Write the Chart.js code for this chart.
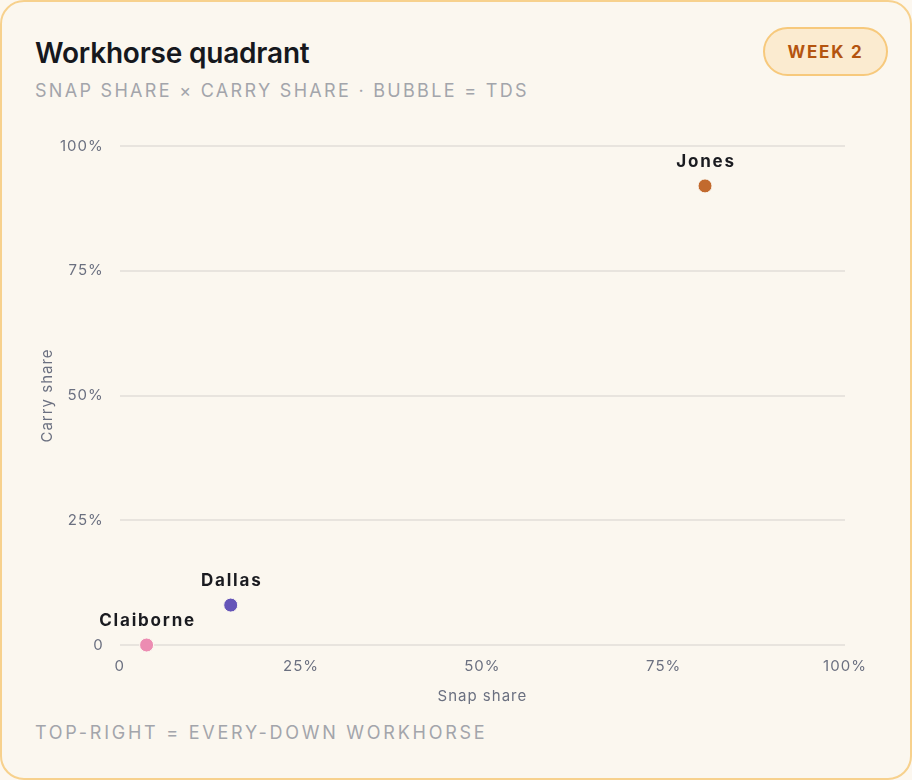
<!DOCTYPE html>
<html>
<head>
<meta charset="utf-8">
<script src="https://cdn.jsdelivr.net/npm/chart.js@4.4.1/dist/chart.umd.min.js"></script>
<style>
  html, body { margin: 0; padding: 0; background: #fcf7ef; }
  .card {
    position: relative;
    width: 912px; height: 780px;
    box-sizing: border-box;
    border: 2px solid #f7d18d;
    border-radius: 24px;
    background: #fbf7ef;
    font-family: Inter, "Noto Sans", sans-serif;
  }
  .title {
    position: absolute; left: 33px; top: 34px;
    font-size: 28px; font-weight: 600; color: #16181d;
    letter-spacing: -0.2px;
  }
  .subtitle {
    position: absolute; left: 33px; top: 78px;
    font-size: 18px; color: #a3a5ab; letter-spacing: 2.3px;
  }
  .badge {
    position: absolute; left: 761px; top: 25px;
    width: 125px; height: 49px;
    box-sizing: border-box;
    border: 2px solid #f7c97c; border-radius: 25px;
    background: #fbebd0;
    color: #b4540f; font-size: 17px; font-weight: 700; letter-spacing: 1.8px;
    display: flex; align-items: center; justify-content: center;
  }
  .footer {
    position: absolute; left: 33px; top: 720px;
    font-size: 18px; color: #a3a5ab; letter-spacing: 2.75px;
  }
  .chart-wrap {
    position: absolute; left: 36px; top: 119px;
    width: 837px; height: 588px;
  }
</style>
</head>
<body>
<div class="card">
  <div class="title">Workhorse quadrant</div>
  <div class="subtitle">SNAP SHARE × CARRY SHARE · BUBBLE = TDS</div>
  <div class="badge">WEEK 2</div>
  <div class="chart-wrap"><canvas id="quadrant"></canvas></div>
  <div class="footer">TOP-RIGHT = EVERY-DOWN WORKHORSE</div>
</div>
<script>
// Players and their shares (percent)
const players = ['Jones', 'Dallas', 'Claiborne'];
const snapShare = [80.7, 15.3, 3.7];
const carryShare = [92, 8, 0];
const tds = [0, 0, 0];
const colors = ['#c26a2e', '#6555b8', '#ec8cb2'];
const axisTicks = [0, 25, 50, 75, 100];

const pctLabel = v => v === 0 ? '0' : v + '%';
const fontFamily = 'Inter, "Noto Sans", sans-serif';

// Slightly spaced letters for ticks and axis titles
const spacing = {
  id: 'spacing',
  beforeDraw(chart) {
    chart.ctx.letterSpacing = '1px';
  }
};

// Draw player names above each bubble
const nameLabels = {
  id: 'nameLabels',
  afterDatasetsDraw(chart) {
    const ctx = chart.ctx;
    const meta = chart.getDatasetMeta(0);
    ctx.save();
    ctx.font = '700 17px ' + fontFamily;
    ctx.letterSpacing = '1.8px';
    ctx.fillStyle = '#1a1b20';
    ctx.textAlign = 'center';
    ctx.textBaseline = 'bottom';
    meta.data.forEach((pt, i) => {
      ctx.fillText(players[i], pt.x + 1, pt.y - 16);
    });
    ctx.restore();
  }
};

const ctx = document.getElementById('quadrant').getContext('2d');
new Chart(ctx, {
  type: 'bubble',
  data: {
    datasets: [{
      label: 'Players',
      data: players.map((p, i) => ({ x: snapShare[i], y: carryShare[i], r: 7 + tds[i] * 3 })),
      backgroundColor: colors,
      borderColor: '#fbf7ef',
      borderWidth: 1,
      hoverRadius: 0,
      clip: false
    }]
  },
  options: {
    responsive: true,
    maintainAspectRatio: false,
    animation: false,
    layout: { padding: { top: 10, right: 30, bottom: 0, left: 0 } },
    plugins: {
      legend: { display: false },
      tooltip: { enabled: false }
    },
    scales: {
      x: {
        type: 'linear',
        min: 0, max: 100,
        afterBuildTicks: axis => { axis.ticks = axisTicks.map(v => ({ value: v })); },
        grid: { display: false },
        border: { display: false },
        ticks: {
          callback: pctLabel,
          color: '#6b7080',
          font: { family: fontFamily, size: 15 },
          padding: 4
        },
        title: {
          display: true,
          text: 'Snap share',
          color: '#6b7080',
          font: { family: fontFamily, size: 15 },
          padding: { top: 8 }
        }
      },
      y: {
        type: 'linear',
        min: 0, max: 100,
        afterBuildTicks: axis => { axis.ticks = axisTicks.map(v => ({ value: v })); },
        grid: { color: '#e8e4de', lineWidth: 2, drawTicks: false },
        border: { display: false },
        ticks: {
          callback: pctLabel,
          color: '#6b7080',
          font: { family: fontFamily, size: 15 },
          padding: 16
        },
        title: {
          display: true,
          text: 'Carry share',
          color: '#6b7080',
          font: { family: fontFamily, size: 15 },
          padding: { top: 0, bottom: -8 }
        }
      }
    }
  },
  plugins: [spacing, nameLabels]
});
</script>
</body>
</html>
